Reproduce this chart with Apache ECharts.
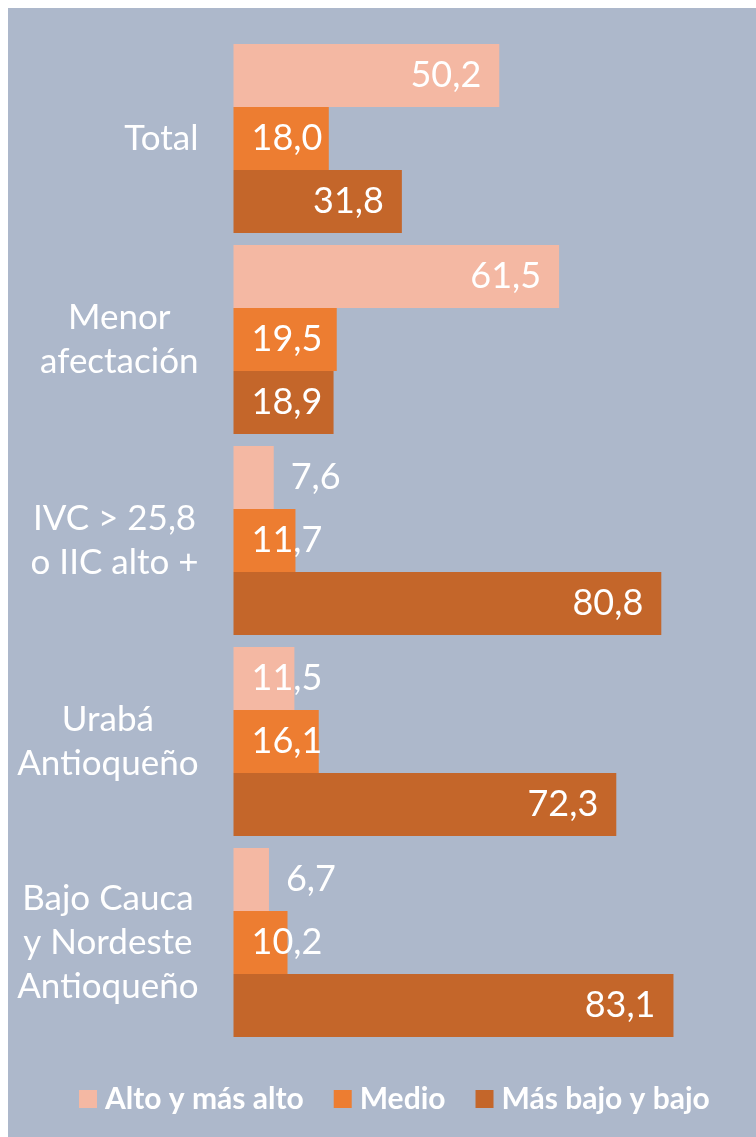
<!DOCTYPE html>
<html>
<head>
<meta charset="utf-8">
<script src="https://cdn.jsdelivr.net/npm/echarts@6/dist/echarts.min.js"></script>
<style>
  html, body { margin: 0; padding: 0; background: #ffffff; }
  #chart { position: absolute; left: 8px; top: 8px; width: 748px; height: 1129px; }
</style>
</head>
<body>
<div id="chart"></div>
<script>
    // datos
    var categories = ['Total', 'Menor\nafectación', 'IVC > 25,8\no IIC alto +', 'Urabá\nAntioqueño', 'Bajo Cauca\ny Nordeste\nAntioqueño'];
    var seriesNames = ['Alto y más alto', 'Medio', 'Más bajo y bajo'];
    var alto = [50.2, 61.5, 7.6, 11.5, 6.7];
    var medio = [18.0, 19.5, 11.7, 16.1, 10.2];
    var bajo = [31.8, 18.9, 80.8, 72.3, 83.1];
    var colors = ['#f4b8a3', '#ed7d31', '#c4662a'];

    function fmt(v) {
        return v.toFixed(1).replace('.', ',');
    }

    // etiqueta dentro del extremo, o fuera si la barra es muy corta
    function withLabels(values) {
        return values.map(function (v) {
            var label;
            if (v < 8) {
                label = {position: 'right', distance: 17};
            } else if (v < 22) {
                label = {position: 'insideLeft', distance: 18};
            } else {
                label = {position: 'insideRight', distance: 18};
            }
            return {value: v, label: label};
        });
    }

    function makeSeries(name, values, color) {
        return {
            type: 'bar',
            name: name,
            data: withLabels(values),
            barGap: '0%',
            barCategoryGap: '6%',
            itemStyle: {color: color},
            label: {
                show: true,
                color: '#ffffff',
                fontFamily: 'Lato',
                fontSize: 36,
                formatter: function (p) {
                    return fmt(p.value);
                }
            }
        };
    }

    var myChart = echarts.init(document.getElementById('chart'));
    myChart.setOption({
        backgroundColor: '#adb8cb',
        animation: false,
        textStyle: {fontFamily: 'Lato'},
        grid: {
            left: 225.5,
            top: 30,
            width: 476.5,
            height: 1005
        },
        legend: {
            top: 1071,
            left: 66,
            icon: 'rect',
            itemWidth: 18,
            itemHeight: 18,
            itemGap: 30,
            data: seriesNames,
            textStyle: {
                color: '#ffffff',
                fontFamily: 'Lato',
                fontWeight: 'bold',
                fontSize: 30,
                padding: [0, 0, 0, 3]
            }
        },
        xAxis: {
            type: 'value',
            min: 0,
            max: 90,
            show: false
        },
        yAxis: {
            type: 'category',
            data: categories,
            inverse: true,
            axisLine: {show: false},
            axisTick: {show: false},
            splitLine: {show: false},
            axisLabel: {
                interval: 0,
                margin: 35,
                align: 'right',
                formatter: function (value) {
                    return value.split('\n').map(function (l) {
                        return '{c|' + l + '}';
                    }).join('\n');
                },
                rich: {
                    c: {
                        align: 'center',
                        color: '#ffffff',
                        fontFamily: 'Lato',
                        fontSize: 35,
                        lineHeight: 44
                    }
                }
            }
        },
        series: [
            makeSeries(seriesNames[0], alto, colors[0]),
            makeSeries(seriesNames[1], medio, colors[1]),
            makeSeries(seriesNames[2], bajo, colors[2])
        ]
    });
</script>
</body>
</html>
